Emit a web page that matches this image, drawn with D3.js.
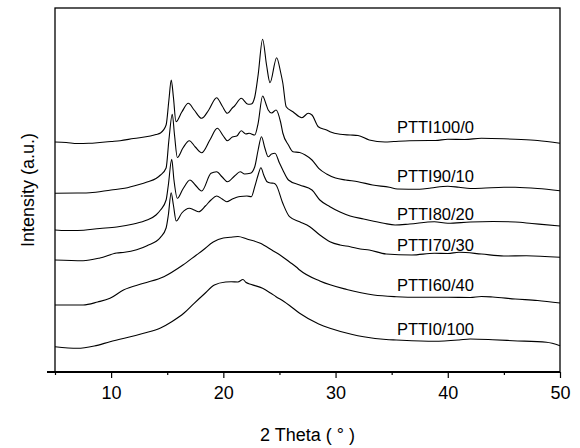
<!DOCTYPE html>
<html><head><meta charset="utf-8">
<script src="https://cdn.jsdelivr.net/npm/d3@7"></script>
<style>html,body{margin:0;padding:0;background:#fff;}svg{display:block;}</style>
</head><body><svg id="c" width="580" height="448"></svg>
<script>
// 2θ (deg) and intensity (a.u., offset stacked) for each sample
const seriesNames = ["PTTI100/0","PTTI90/10","PTTI80/20","PTTI70/30","PTTI60/40","PTTI0/100"];
const s100_0 = [[5,230],[6,229.5],[7,228.5],[8,228.7],[9,229.5],[10,230.5],[10.8,231.3],[12,233.5],[13.5,236],[14,237.5],[14.4,239],[14.9,247],[15.15,272],[15.36,292],[15.55,275],[15.78,250.3],[16.3,260],[16.88,268.7],[17.4,262],[18.07,253.7],[18.7,262],[19.4,274.3],[19.9,266],[20.36,258.7],[20.8,264],[21,266],[21.6,273.7],[22.2,267.7],[22.5,268],[22.8,275],[23.1,297],[23.5,332.7],[23.85,307],[24.16,289.3],[24.75,314.3],[25.1,300],[25.3,289],[25.6,265.3],[26.2,260.3],[27,254.3],[27.57,258.7],[27.9,257],[28.46,245.3],[29.2,242],[29.5,240.3],[30.4,237.7],[31.3,237],[32,236.5],[33,232],[34.4,230],[35.2,230.5],[36.6,231.3],[38.9,231.5],[40,232.7],[41.5,232.5],[43,233.7],[45,233.2],[46,232.7],[48,231.5],[50,228.7]];
const s90_10 = [[5,178.7],[7,179],[8.1,179.3],[10,182],[11.2,183.7],[12.5,187.5],[13.2,190],[14,193.5],[14.4,197],[14.9,204],[15.15,232],[15.45,257.7],[15.65,237],[15.9,214.5],[16.4,224],[16.97,231.3],[17.5,225],[18.07,219.3],[18.8,232],[19.46,243.7],[20,236],[20.36,231.3],[20.8,235],[21.2,236],[21.6,241.3],[22,238],[22.3,238.7],[22.8,237],[23.1,248.7],[23.5,276],[23.8,268],[24,262],[24.3,259],[24.7,262],[25.1,250],[25.3,239],[25.8,227],[26.2,220.3],[26.8,219.5],[27.3,217],[27.9,212],[28.5,203.7],[29.2,198],[30,194],[30.9,192],[32,190.3],[33.3,187],[34.8,184.7],[35.5,183],[37.5,182.7],[38.5,184],[40,185.8],[41,184.7],[42,183.5],[43,183.7],[45,184.8],[46,184.7],[48,183.5],[50,181.3]];
const s80_20 = [[5,142],[6,141.5],[7,141.5],[9,143.5],[10.5,145],[12,148],[13.2,152],[14,157],[14.4,162],[14.9,172],[15.1,187],[15.4,212.7],[15.6,192],[15.9,173.7],[16.4,183],[17.03,192],[17.5,187],[18.07,181],[18.9,198.7],[19.4,200.3],[19.9,195],[20.36,190.3],[21,196],[21.5,200.3],[21.9,198],[22.4,198.7],[22.8,205.3],[23.1,222],[23.4,235.3],[23.7,224],[24,215.3],[24.3,218],[24.6,218.7],[25,209],[25.3,202],[25.8,192],[26.8,187],[27.9,182],[28.6,172],[29.5,165.3],[30.4,160],[31.3,156],[32.5,153],[34.3,148.7],[35.3,147],[36.6,148],[38.8,150.3],[40,148.7],[42,150],[44,150.5],[46,150],[47.5,148.5],[50,146]];
const s70_30 = [[5,112],[7.5,111.3],[9,114],[10.5,119],[11.2,119.7],[13.2,126.3],[14.4,134.7],[14.9,144],[15.1,157],[15.35,179.3],[15.55,167],[15.8,151],[16.3,159],[16.97,163.7],[17.4,162],[17.8,160.3],[18.4,166],[18.9,172],[19.4,176],[19.9,173],[20.3,170.3],[20.8,173],[21.2,174.7],[21.5,175.5],[22.1,176],[22.5,175.3],[22.8,185.3],[23.1,197],[23.35,204.3],[23.6,197],[23.9,190.3],[24.2,189],[24.5,188.7],[24.7,187],[25.3,168.7],[25.9,155.3],[26.8,150.3],[27.7,145.3],[28.6,137],[29.5,130.3],[30.4,127],[31.3,125.3],[32.2,123],[33,122],[34.5,118],[36.8,117],[38.8,118.7],[40,118.5],[41,119.7],[43,118],[45,116],[47,116.3],[50,114.7]];
const s60_40 = [[5,67],[7.5,67],[8.8,70],[9.9,73.7],[11.1,82],[12.9,88.7],[14.7,95.3],[16.4,107],[17.6,117],[18.2,122],[19.1,130],[20,134],[20.6,134.7],[21.3,135.5],[22.1,133],[23.3,128.7],[24.45,121],[25.05,117],[25.9,110],[26.5,105],[26.8,102],[28.6,91],[31,82.5],[33.4,77],[35.4,75.3],[37.5,74.7],[40,74.7],[42,74.5],[43,75.5],[44,75],[46,73],[48,71.5],[50,69]];
const s0_100 = [[5,25.3],[7,23.7],[8.5,26],[9.9,30.3],[12.9,38.7],[14.4,44],[15.4,50.3],[16.5,59],[17.4,68.7],[18.3,78],[19.2,87],[20.2,90],[20.7,90.3],[21.3,90],[21.75,92.5],[22,89.7],[22.5,87.5],[23.5,83.7],[24.2,79],[24.7,75.3],[25.4,70.5],[25.9,66.5],[26.8,58.7],[28.5,48],[29.5,43.7],[31.5,37.5],[32.5,35.3],[34.5,32.5],[35.4,32],[38.8,30.7],[41,32],[42,33],[44,32.3],[45.8,31.3],[48.8,29.7],[50,26.3]];
const seriesData = [s100_0, s90_10, s80_20, s70_30, s60_40, s0_100];
// label anchors in data units (2θ, intensity)
const labelTheta = 38.9;
const labelIntensity = [239, 190.5, 152, 121.5, 81.5, 37];
const xTicks = [10,20,30,40,50];
const xMinorTicks = [5,15,25,35,45];

const svg = d3.select("#c");
const L=55, R=560, T=8, B=372;
const x = d3.scaleLinear().domain([5,50]).range([L,R]);
const y = d3.scaleLinear().domain([0,364]).range([B,T]);
const font = "Arial, 'Liberation Sans', sans-serif";

// frame
svg.append("rect").attr("x",L).attr("y",T).attr("width",R-L).attr("height",B-T)
  .attr("fill","none").attr("stroke","#000").attr("stroke-width",1.3);

// x axis
const gx = svg.append("g").attr("transform",`translate(0,${B})`)
  .call(d3.axisBottom(x).tickValues(xTicks).tickSize(6).tickPadding(8).tickFormat(d3.format("d")));
gx.select(".domain").remove();
gx.selectAll("line").attr("stroke","#000").attr("stroke-width",1.2);
gx.selectAll("text").attr("font-family",font).attr("font-size",18).attr("fill","#000");
const gxm = svg.append("g").attr("transform",`translate(0,${B})`)
  .call(d3.axisBottom(x).tickValues(xMinorTicks).tickSize(3).tickFormat(""));
gxm.select(".domain").remove();
gxm.selectAll("line").attr("stroke","#000").attr("stroke-width",1.2);
svg.append("line").attr("x1",L-8).attr("x2",R).attr("y1",B).attr("y2",B)
  .attr("stroke","#000").attr("stroke-width",1.8);

// curves
const line = d3.line().x(d=>x(d[0])).y(d=>y(d[1])).curve(d3.curveMonotoneX);
svg.append("g").selectAll("path").data(seriesData).join("path")
  .attr("d",line).attr("fill","none").attr("stroke","#000").attr("stroke-width",1.1);

// labels
svg.append("g").selectAll("text").data(seriesNames).join("text")
  .attr("x",x(labelTheta)).attr("y",(d,i)=>y(labelIntensity[i]))
  .attr("text-anchor","middle").attr("font-family",font).attr("font-size",16.5).attr("fill","#000")
  .text(d=>d);

// axis titles
svg.append("text").attr("x",(L+R)/2).attr("y",441).attr("text-anchor","middle")
  .attr("font-family",font).attr("font-size",18).text("2 Theta ( ° )");
svg.append("text").attr("transform",`translate(34,${(T+B)/2}) rotate(-90)`).attr("text-anchor","middle")
  .attr("font-family",font).attr("font-size",18).text("Intensity (a.u.)");
</script></body></html>
